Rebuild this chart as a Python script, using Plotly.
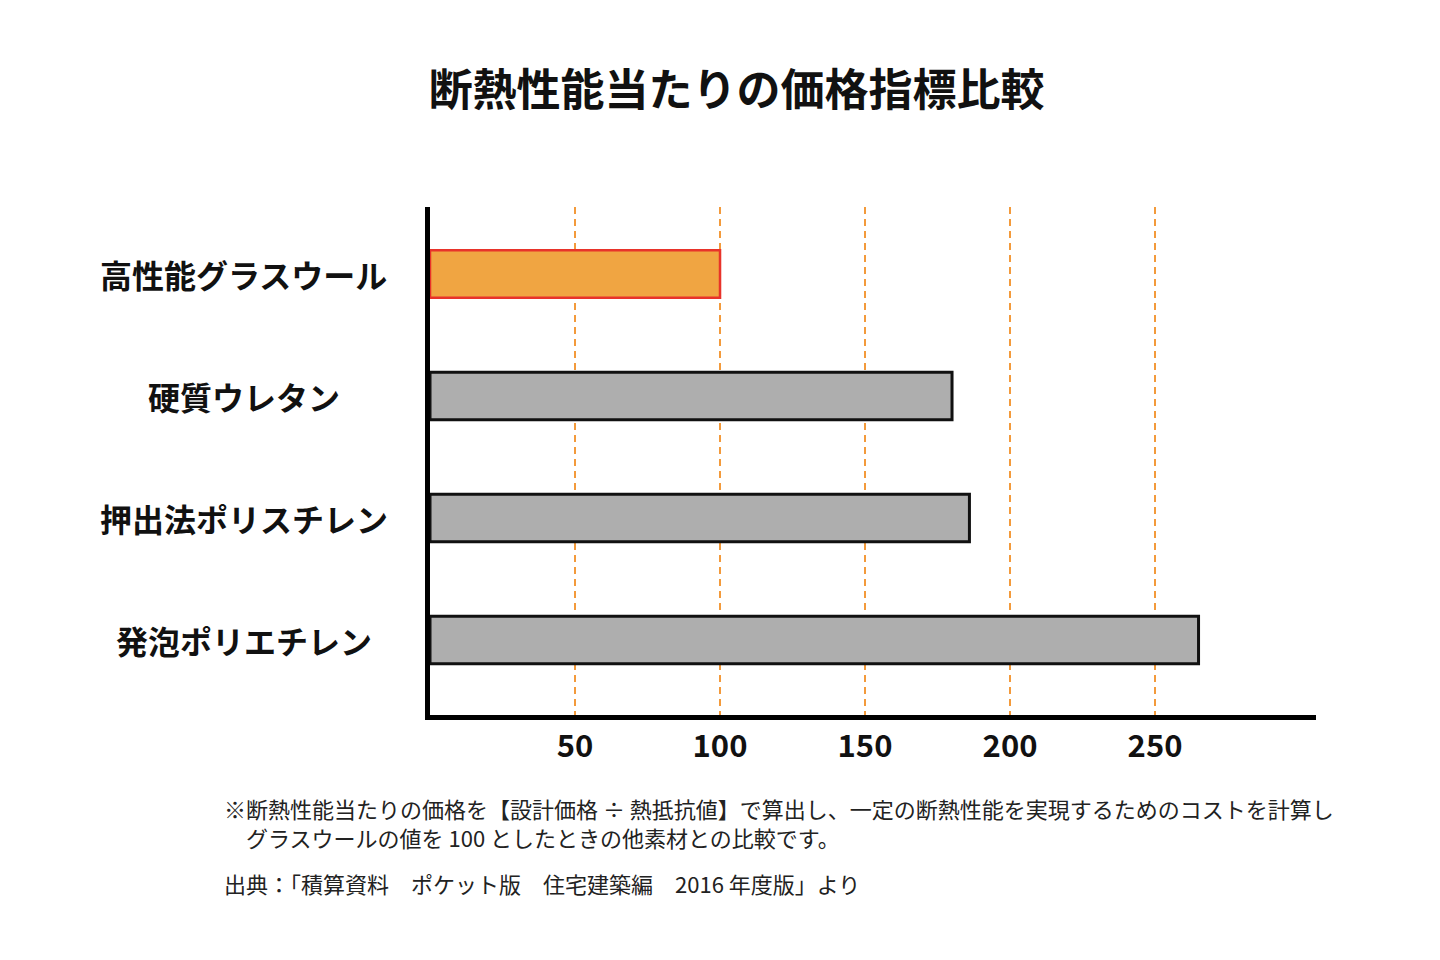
import plotly.graph_objs as go

# data
materials = ["高性能グラスウール", "硬質ウレタン", "押出法ポリスチレン", "発泡ポリエチレン"]
price_index = [100, 180, 186, 265]
tick_values = [50, 100, 150, 200, 250]
tick_labels = ["50", "100", "150", "200", "250"]

title_text = "断熱性能当たりの価格指標比較"
note_lines = [
    "※断熱性能当たりの価格を【設計価格 ÷ 熱抵抗値】で算出し、一定の断熱性能を実現するためのコストを計算し",
    "　グラスウールの値を 100 としたときの他素材との比較です。",
]
source_text = "出典：「積算資料　ポケット版　住宅建築編　2016 年度版」より"

font_name = "Noto Sans CJK JP"

fill_colors = ["#F0A542"] + ["#AEAEAE"] * 3
line_colors = ["#E8332A"] + ["#111111"] * 3
line_widths = [2.5] + [3] * 3

fig = go.Figure()

fig.add_trace(
    go.Bar(
        x=price_index,
        y=materials,
        orientation="h",
        width=0.39,
        marker=dict(color=fill_colors, line=dict(color=line_colors, width=line_widths)),
        hoverinfo="x+y",
    )
)

# category labels, centred to the left of the axis
for name in materials:
    fig.add_annotation(
        x=-0.21, xref="paper", xanchor="center",
        y=name, yref="y", yanchor="middle",
        text=name, showarrow=False,
        font=dict(family=font_name, size=32, color="#111111", weight=700),
    )

# notes under the chart (paper y: 0 = bottom of plot at 715px, 508px per unit)
note_y = [-0.183, -0.240]
for text, yy in zip(note_lines, note_y):
    fig.add_annotation(
        x=-0.2348, xref="paper", xanchor="left",
        y=yy, yref="paper", yanchor="middle",
        text=text, showarrow=False,
        font=dict(family=font_name, size=22, color="#222222"),
    )
fig.add_annotation(
    x=-0.2348, xref="paper", xanchor="left",
    y=-0.331, yref="paper", yanchor="middle",
    text=source_text, showarrow=False,
    font=dict(family=font_name, size=22, color="#222222"),
)

fig.update_xaxes(
    range=[0, 305.5],
    tickvals=tick_values,
    ticktext=tick_labels,
    tickfont=dict(family=font_name, size=31, color="#111111", weight=700),
    ticks="",
    ticklabelstandoff=0,
    showgrid=True,
    gridcolor="#F39A3B",
    gridwidth=2,
    griddash="7px,5px",
    zeroline=False,
    showline=True,
    linecolor="#000000",
    linewidth=5,
    fixedrange=True,
)
fig.update_yaxes(
    categoryorder="array",
    categoryarray=materials,
    range=[3.615, -0.549],
    showticklabels=False,
    ticks="",
    showgrid=False,
    zeroline=False,
    showline=True,
    linecolor="#000000",
    linewidth=5,
    fixedrange=True,
)

fig.update_layout(
    width=1440,
    height=960,
    margin=dict(l=422, r=132, t=199, b=253),
    paper_bgcolor="white",
    plot_bgcolor="white",
    showlegend=False,
    title=dict(
        text=title_text,
        x=0.506, xanchor="center",
        y=0.914, yanchor="middle",
        font=dict(family=font_name, size=44, color="#111111", weight=700),
    ),
    font=dict(family=font_name),
)

fig.write_html("out.html")
